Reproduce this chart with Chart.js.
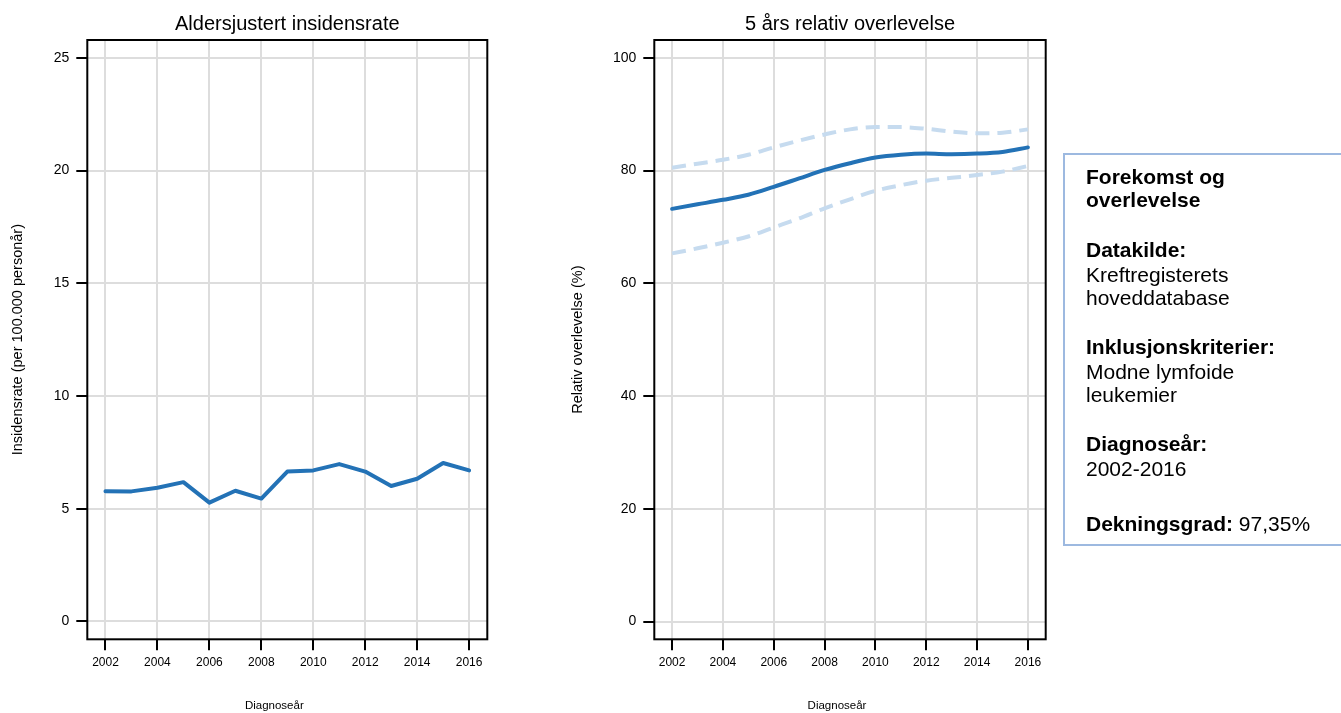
<!DOCTYPE html>
<html>
<head>
<meta charset="utf-8">
<script src="https://cdn.jsdelivr.net/npm/chart.js@4.4.1/dist/chart.umd.min.js"></script>
<style>
  html, body { margin: 0; padding: 0; background: #fff; width: 1341px; height: 713px; overflow: hidden; }
  canvas { position: absolute; left: 0; top: 0; }
  #info {
    position: absolute; left: 1063px; top: 153px; width: 300px; height: 393px;
    border: 2px solid #9db9e0; box-sizing: border-box;
    font-family: "Liberation Sans", Arial, sans-serif; font-size: 21px; color: #000;
  }
  #info .ln { position: absolute; left: 21px; white-space: nowrap; line-height: 24px; }
  #info b { font-weight: bold; }
</style>
</head>
<body>
<canvas id="inc" width="1341" height="713"></canvas>
<canvas id="surv" width="1341" height="713"></canvas>
<div id="info">
  <div class="ln" style="top:10px"><b>Forekomst og</b></div>
  <div class="ln" style="top:33px"><b>overlevelse</b></div>
  <div class="ln" style="top:83px"><b>Datakilde:</b></div>
  <div class="ln" style="top:108px">Kreftregisterets</div>
  <div class="ln" style="top:131px">hoveddatabase</div>
  <div class="ln" style="top:180px"><b>Inklusjonskriterier:</b></div>
  <div class="ln" style="top:205px">Modne lymfoide</div>
  <div class="ln" style="top:228px">leukemier</div>
  <div class="ln" style="top:277px"><b>Diagnoseår:</b></div>
  <div class="ln" style="top:302px">2002-2016</div>
  <div class="ln" style="top:357px"><b>Dekningsgrad:</b> 97,35%</div>
</div>
<script>
// Diagnosis years
const years = [2002, 2003, 2004, 2005, 2006, 2007, 2008, 2009, 2010, 2011, 2012, 2013, 2014, 2015, 2016];
// Age-adjusted incidence per 100 000 person-years
const incidence = [5.78, 5.77, 5.93, 6.18, 5.27, 5.80, 5.45, 6.65, 6.70, 6.98, 6.65, 6.01, 6.33, 7.03, 6.70];
// 5-year relative survival (%) with lower and upper confidence limits
const survival = [73.2, 74.0, 74.8, 75.7, 77.1, 78.6, 80.1, 81.3, 82.3, 82.8, 83.0, 82.9, 83.0, 83.3, 84.1];
const survUpper = [80.5, 81.2, 81.9, 82.8, 84.1, 85.3, 86.4, 87.3, 87.7, 87.7, 87.4, 86.9, 86.6, 86.7, 87.3];
const survLower = [65.3, 66.2, 67.2, 68.3, 69.9, 71.5, 73.3, 74.9, 76.4, 77.4, 78.2, 78.7, 79.2, 79.8, 80.8];
// Tick values
const xTicks = [2002, 2004, 2006, 2008, 2010, 2012, 2014, 2016];
const incTicks = [0, 5, 10, 15, 20, 25];
const survTicks = [0, 20, 40, 60, 80, 100];

const FONT = '"Liberation Sans", Arial, sans-serif';
Chart.defaults.font.family = FONT;
Chart.defaults.color = '#000';

const BLUE = '#2372b6';
const LIGHT = '#c6dbef';
const GRID = '#dddddd';

const pts = vals => years.map((y, i) => ({ x: y, y: vals[i] }));

// Box frame plus titles around the plot area
const framePlugin = {
  id: 'frame',
  beforeDatasetsDraw(chart) {
    const a = chart.chartArea, ctx = chart.ctx;
    ctx.save();
    ctx.strokeStyle = '#000';
    ctx.lineWidth = 2;
    ctx.strokeRect(a.left, a.top, a.right - a.left, a.bottom - a.top);
    ctx.restore();
  },
  afterDraw(chart, args, o) {
    const a = chart.chartArea, ctx = chart.ctx;
    const cx = (a.left + a.right) / 2;
    ctx.save();
    ctx.fillStyle = '#000';
    ctx.textAlign = 'center';
    ctx.textBaseline = 'alphabetic';
    ctx.font = o.titleSize + 'px ' + FONT;
    ctx.fillText(o.title, cx, o.titleY);
    ctx.font = o.xTitleSize + 'px ' + FONT;
    ctx.fillText(o.xTitle, cx + o.xTitleDx, o.xTitleY);
    ctx.font = o.yTitleSize + 'px ' + FONT;
    ctx.translate(a.left + o.yTitleDx, (a.top + a.bottom) / 2);
    ctx.rotate(-Math.PI / 2);
    ctx.textBaseline = 'middle';
    ctx.fillText(o.yTitle, 0, 0);
    ctx.restore();
  }
};

function scales(yMin, yMax, yTickVals, yWidth) {
  return {
    x: {
      type: 'linear', min: 2001.3, max: 2016.7,
      afterBuildTicks: s => { s.ticks = xTicks.map(v => ({ value: v })); },
      afterFit: s => { s.height = 713 - 639.3; },
      ticks: { callback: v => String(v), font: { size: 12 }, color: '#000', padding: 5, maxRotation: 0, autoSkip: false },
      grid: { color: GRID, lineWidth: 2, drawTicks: true, tickLength: 11, tickColor: '#000', tickWidth: 2 },
      border: { display: false }
    },
    y: {
      type: 'linear', min: yMin, max: yMax,
      afterBuildTicks: s => { s.ticks = yTickVals.map(v => ({ value: v })); },
      afterFit: s => { s.width = yWidth; },
      ticks: { callback: v => String(v), font: { size: 14 }, color: '#000', padding: 7, autoSkip: false },
      grid: { color: GRID, lineWidth: 2, drawTicks: true, tickLength: 11, tickColor: '#000', tickWidth: 2 },
      border: { display: false }
    }
  };
}

const common = {
  responsive: false,
  animation: false,
  devicePixelRatio: 1,
  events: []
};

new Chart(document.getElementById('inc'), {
  type: 'line',
  data: {
    datasets: [{
      data: pts(incidence), borderColor: BLUE, borderWidth: 4, pointRadius: 0,
      tension: 0, borderJoinStyle: 'round', borderCapStyle: 'round', fill: false
    }]
  },
  options: Object.assign({}, common, {
    layout: { padding: { left: 0, top: 40, right: 1341 - 487.3, bottom: 0 } },
    scales: scales(-0.79, 25.79, incTicks, 87.3),
    plugins: {
      legend: { display: false }, tooltip: { enabled: false },
      frame: {
        title: 'Aldersjustert insidensrate', titleSize: 20, titleY: 30,
        xTitle: 'Diagnoseår', xTitleDx: -13, xTitleY: 709, xTitleSize: 11.5,
        yTitle: 'Insidensrate (per 100.000 personår)', yTitleDx: -69, yTitleSize: 14.5
      }
    }
  }),
  plugins: [framePlugin]
});

new Chart(document.getElementById('surv'), {
  type: 'line',
  data: {
    datasets: [
      { data: pts(survival), borderColor: BLUE, borderWidth: 4, pointRadius: 0, order: 0,
        cubicInterpolationMode: 'monotone', borderCapStyle: 'round', borderJoinStyle: 'round', fill: false },
      { data: pts(survUpper), borderColor: LIGHT, borderWidth: 4, pointRadius: 0, order: 1,
        borderDash: [14, 8], cubicInterpolationMode: 'monotone', fill: false },
      { data: pts(survLower), borderColor: LIGHT, borderWidth: 4, pointRadius: 0, order: 1,
        borderDash: [14, 8], cubicInterpolationMode: 'monotone', fill: false }
    ]
  },
  options: Object.assign({}, common, {
    layout: { padding: { left: 654.3 - 80, top: 40, right: 1341 - 1045.7, bottom: 0 } },
    scales: scales(-3.15, 103.15, survTicks, 80),
    plugins: {
      legend: { display: false }, tooltip: { enabled: false },
      frame: {
        title: '5 års relativ overlevelse', titleSize: 20, titleY: 30,
        xTitle: 'Diagnoseår', xTitleDx: -13, xTitleY: 709, xTitleSize: 11.5,
        yTitle: 'Relativ overlevelse (%)', yTitleDx: -76, yTitleSize: 14.5
      }
    }
  }),
  plugins: [framePlugin]
});
</script>
</body>
</html>
